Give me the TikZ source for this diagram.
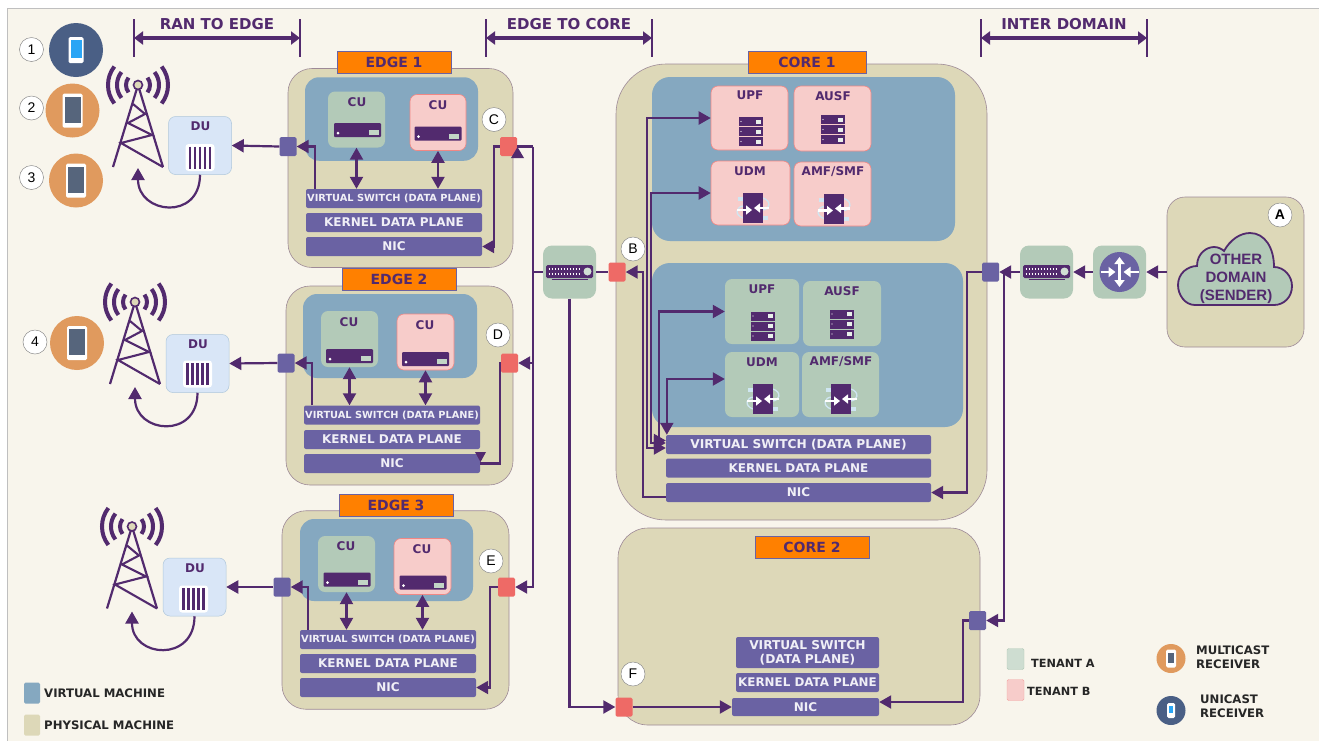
\documentclass[tikz,border=0pt]{standalone}
\usepackage{fontspec}
\setmainfont{DejaVu Sans}
\newfontfamily\circleFont{Liberation Sans}
\usetikzlibrary{arrows.meta}
\definecolor{wireColor}{HTML}{522A6E}
\definecolor{barColor}{HTML}{6A62A3}
\definecolor{physColor}{HTML}{DDD8B8}
\definecolor{virtColor}{HTML}{85A8C0}
\definecolor{tenantA}{HTML}{B3CAB8}
\definecolor{tenantB}{HTML}{F7CCCA}
\definecolor{titleColor}{HTML}{FF8000}
\definecolor{redPort}{HTML}{EE6A66}
\definecolor{duColor}{HTML}{D9E6F7}
\definecolor{paperColor}{HTML}{F8F5EC}
\definecolor{uniColor}{HTML}{4A5F85}
\definecolor{multiColor}{HTML}{E09A5E}
\definecolor{screenGrey}{HTML}{56657C}
\definecolor{screenBlue}{HTML}{2AA5F5}
\definecolor{swirlColor}{HTML}{CFE6F2}
\newcommand{\sz}[1]{\fontsize{#1}{#1}\selectfont\bfseries}
\tikzstyle{physBox}=[shape = rectangle, rounded corners = 24pt, fill = physColor, draw = wireColor!45!physColor, line width = 0.6pt]
\tikzstyle{virtBox}=[shape = rectangle, rounded corners = 14pt, fill = virtColor]
\tikzstyle{titleBox}=[shape = rectangle, minimum width = 114pt, minimum height = 22pt, fill = titleColor, draw = barColor, line width = 0.6pt, text = wireColor, font = \sz{14}]
\tikzstyle{greenBox}=[shape = rectangle, rounded corners = 7pt, fill = tenantA]
\tikzstyle{pinkBox}=[shape = rectangle, rounded corners = 7pt, fill = tenantB, draw = redPort!70!tenantB, line width = 0.6pt]
\tikzstyle{barBox}=[shape = rectangle, rounded corners = 2pt, fill = barColor, text = white!90!barColor, inner sep = 0pt]
\tikzstyle{duBox}=[shape = rectangle, rounded corners = 7pt, fill = duColor, draw = virtColor!50!duColor, line width = 0.5pt, minimum width = 63pt, minimum height = 58pt]
\tikzstyle{bluePort}=[shape = rectangle, rounded corners = 1.5pt, fill = barColor, minimum width = 17pt, minimum height = 19pt, inner sep = 0pt]
\tikzstyle{redSquare}=[shape = rectangle, rounded corners = 1.5pt, fill = redPort, minimum width = 17pt, minimum height = 19pt, inner sep = 0pt]
\tikzstyle{markCircle}=[shape = circle, minimum size = 24pt, inner sep = 0pt, fill = white, draw = black!45, line width = 0.5pt, font = \circleFont\fontsize{14}{14}\selectfont]
\tikzstyle{boxLabel}=[text = wireColor, inner sep = 0pt, font = \sz{12}]
\tikzstyle{blackLabel}=[text = black!85, inner sep = 0pt, anchor = west, align = left, font = \sz{11.7}]
\tikzstyle{headLabel}=[text = wireColor, inner sep = 0pt, font = \sz{15}]
\tikzstyle{wire}=[draw = wireColor, line width = 2.2pt]
\tikzstyle{wireTip}=[wire, -{Triangle[length = 12pt, width = 13pt]}]
\tikzstyle{wireBoth}=[wire, {Triangle[length = 12pt, width = 13pt]}-{Triangle[length = 12pt, width = 13pt]}]
\tikzstyle{spanLine}=[draw = wireColor, line width = 3.4pt, {Triangle[length = 9pt, width = 13pt]}-{Triangle[length = 9pt, width = 13pt]}]
\tikzstyle{tickLine}=[draw = wireColor, line width = 1.2pt]
\newcommand{\towerIcon}[2]{
\begin{scope}[shift = {(#1,#2)}, draw = wireColor]
\draw[line width = 2.2pt] (-25,82) -- (0,0) -- (25,82);
\draw[line width = 2.1pt] (-5,19) -- (7,29) -- (-10,38) -- (14,50) -- (-17,58) -- (25,82);
\draw[line width = 4pt] (38:12pt) arc[start angle = 38, end angle = -38, radius = 12pt];
\draw[line width = 4pt] (38:21pt) arc[start angle = 38, end angle = -38, radius = 21pt];
\draw[line width = 4pt] (38:30pt) arc[start angle = 38, end angle = -38, radius = 30pt];
\draw[line width = 4pt] (142:12pt) arc[start angle = 142, end angle = 218, radius = 12pt];
\draw[line width = 4pt] (142:21pt) arc[start angle = 142, end angle = 218, radius = 21pt];
\draw[line width = 4pt] (142:30pt) arc[start angle = 142, end angle = 218, radius = 30pt];
\draw[fill = physColor, line width = 1.6pt] (0,0) circle[radius = 4.5pt];
\end{scope}}
\newcommand{\phoneIcon}[5]{
\begin{scope}[shift = {(#1,#2)}]
\fill[white, rounded corners = 1.5pt] (-#3/2,-#4/2) rectangle (#3/2,#4/2);
\fill[#5] (-#3/2+2,-#4/2+3) rectangle (#3/2-2,#4/2-5);
\end{scope}}
\newcommand{\cuIcon}[2]{
\begin{scope}[shift = {(#1,#2)}]
\fill[wireColor, rounded corners = 1pt] (-23.5,-7) rectangle (23.5,7);
\fill[white] (-19.5,3) circle[radius = 1.5pt];
\fill[tenantA!80!white] (11,0) rectangle (21,5);
\end{scope}}
\newcommand{\rackIcon}[2]{
\begin{scope}[shift = {(#1,#2)}]
\fill[wireColor] (-12,-14.5) rectangle (12,-5.5);
\fill[wireColor] (-12,-4.5) rectangle (12,4.5);
\fill[wireColor] (-12,5.5) rectangle (12,14.5);
\fill[white!70!tenantA] (5,-12) rectangle (10,-8);
\fill[white!70!tenantA] (5,-2) rectangle (10,2);
\fill[white!70!tenantA] (5,8) rectangle (10,12);
\fill[white] (-10,-10) circle[radius = 0.7pt];
\fill[white] (-10,0) circle[radius = 0.7pt];
\fill[white] (-10,10) circle[radius = 0.7pt];
\end{scope}}
\newcommand{\transferIcon}[2]{
\begin{scope}[shift = {(#1,#2)}]
\fill[swirlColor] (-15,-11) rectangle (-10,-7);
\fill[swirlColor] (10,8) rectangle (15,12);
\draw[swirlColor, line width = 1.3pt] (-10,10) .. controls (-19,7) and (-17,-2) .. (-9,-2);
\draw[swirlColor, line width = 1.3pt] (10,-10) .. controls (19,-7) and (17,2) .. (9,2);
\fill[wireColor] (-10,-15) rectangle (10,15);
\draw[white, line width = 2.3pt, -{Triangle[length = 6pt, width = 9pt]}] (-16,2) -- (-1,2);
\draw[white, line width = 2.3pt, -{Triangle[length = 6pt, width = 9pt]}] (16,0) -- (1,0);
\end{scope}}
\newcommand{\duIcon}[2]{
\begin{scope}[shift = {(#1,#2)}]
\fill[white, rounded corners = 3pt] (-14.5,-13.5) rectangle (14.5,13.5);
\draw[wireColor, line width = 2.9pt] (-10,-11) -- (-10,11);
\draw[wireColor, line width = 2.9pt] (-5,-11) -- (-5,11);
\draw[wireColor, line width = 2.9pt] (0,-11) -- (0,11);
\draw[wireColor, line width = 2.9pt] (5,-11) -- (5,11);
\draw[wireColor, line width = 2.9pt] (10,-11) -- (10,11);
\end{scope}}
\newcommand{\switchIcon}[2]{
\begin{scope}[shift = {(#1,#2)}]
\fill[wireColor, rounded corners = 1.5pt] (-23.5,-6.5) rectangle (23.5,6.5);
\draw[white, line width = 1.5pt, dash pattern = on 1.5pt off 1.5pt] (-21,-2.5) -- (10,-2.5);
\draw[white, line width = 1.5pt, dash pattern = on 1.5pt off 1.5pt] (-21,2.5) -- (10,2.5);
\fill[tenantA!60!white] (18,0) circle[radius = 4pt];
\draw[wireColor, line width = 0.8pt] (-18,8) -- (18,8);
\end{scope}}
\newcommand{\routerIcon}[2]{
\begin{scope}[shift = {(#1,#2)}]
\fill[barColor] (0,0) circle[radius = 20pt];
\draw[white, line width = 2.6pt, {Triangle[length = 7pt, width = 10pt]}-{Triangle[length = 7pt, width = 10pt]}] (0,-15) -- (0,15);
\draw[white, line width = 2.6pt, -{Triangle[length = 7pt, width = 10pt]}] (-19,0) -- (-4,0);
\draw[white, line width = 2.6pt, -{Triangle[length = 7pt, width = 10pt]}] (19,0) -- (4,0);
\end{scope}}
\begin{document}
\begin{tikzpicture}[x = 1pt, y = -1pt]
\useasboundingbox (0,0) rectangle (1319,740);
\fill[white] (0,0) rectangle (1319,740);
\draw[fill = paperColor, draw = black!25, line width = 0.6pt] (7,8) rectangle (1325,746);
% Span arrows on top
\coordinate (ranL) at (134,38);
\coordinate (ranR) at (300,38);
\coordinate (coreL) at (486,38);
\coordinate (coreR) at (652,38);
\coordinate (interL) at (981,38);
\coordinate (interR) at (1147,38);
\draw[tickLine] ([yshift = 19pt]ranL) -- ([yshift = -19pt]ranL);
\draw[tickLine] ([yshift = 19pt]ranR) -- ([yshift = -19pt]ranR);
\draw[tickLine] ([yshift = 19pt]coreL) -- ([yshift = -19pt]coreL);
\draw[tickLine] ([yshift = 19pt]coreR) -- ([yshift = -19pt]coreR);
\draw[tickLine] ([yshift = 19pt]interL) -- ([yshift = -19pt]interL);
\draw[tickLine] ([yshift = 19pt]interR) -- ([yshift = -19pt]interR);
\draw[spanLine] (ranL) -- (ranR);
\draw[spanLine] (coreL) -- (coreR);
\draw[spanLine] (interL) -- (interR);
\node[headLabel] (ranText) at (217,24) {RAN TO EDGE};
\node[headLabel] (coreText) at (569,24) {EDGE TO CORE};
\node[headLabel] (interText) at (1064,24) {INTER DOMAIN};
% Receivers
\node[circle, fill = uniColor, minimum size = 54pt, inner sep = 0pt] (phone1) at (76,50) {};
\node[circle, fill = multiColor, minimum size = 54pt, inner sep = 0pt] (phone2) at (72.5,110.5) {};
\node[circle, fill = multiColor, minimum size = 54pt, inner sep = 0pt] (phone3) at (76,180.5) {};
\node[circle, fill = multiColor, minimum size = 54pt, inner sep = 0pt] (phone4) at (77,343) {};
\phoneIcon{76}{50}{15}{26}{screenBlue}
\phoneIcon{72.5}{110.5}{20}{34}{screenGrey}
\phoneIcon{76}{180.5}{20}{34}{screenGrey}
\phoneIcon{77}{343}{20}{34}{screenGrey}
\node[markCircle] (mark1) at (31.5,49.5) {1};
\node[markCircle] (mark2) at (31.5,108) {2};
\node[markCircle] (mark3) at (31.5,177.5) {3};
\node[markCircle] (mark4) at (35,342) {4};
% Towers
\towerIcon{138}{85}
\towerIcon{135}{302}
\towerIcon{132}{526.5}
\coordinate (footE1) at (138,168);
\coordinate (footE2) at (135,387);
\coordinate (footE3) at (132,611.5);
% Edge one
\node[physBox, minimum width = 225pt, minimum height = 199pt] (pmE1) at (400.5,168) {};
\node[titleBox] (titleE1) at (394,62) {EDGE 1};
\node[virtBox, minimum width = 173pt, minimum height = 83.5pt] (vmE1) at (391.5,119) {};
\node[greenBox, minimum width = 57pt, minimum height = 56pt] (cuGreenE1) at (356.5,119.5) {};
\node[pinkBox, minimum width = 56pt, minimum height = 56pt] (cuPinkE1) at (438,122.5) {};
\node[boxLabel] (cuGreenTextE1) at (357,102) {CU};
\node[boxLabel] (cuPinkTextE1) at (438,105) {CU};
\cuIcon{357.5}{130}
\cuIcon{438}{133.5}
\node[barBox, minimum width = 176pt, minimum height = 19pt, font = \sz{9.8}] (vsE1) at (394,198.5) {VIRTUAL SWITCH (DATA PLANE)};
\node[barBox, minimum width = 176pt, minimum height = 19pt, font = \sz{12}] (kdpE1) at (394,222.5) {KERNEL DATA PLANE};
\node[barBox, minimum width = 176pt, minimum height = 19pt, font = \sz{12}] (nicE1) at (394,246.5) {NIC};
\node[bluePort] (portBlueE1) at (288,146.5) {};
\node[redSquare] (portRedE1) at (508.5,146.5) {};
\node[markCircle] (markC) at (494,119.5) {C};
\node[duBox] (duE1) at (200,145.5) {};
\node[boxLabel] (duTextE1) at (200.5,126) {DU};
\duIcon{200}{157.5}
\draw[wireTip] (portBlueE1.west) -- (duE1.east);
\draw[wireTip] ([xshift = 9pt]vsE1.north west) |- (portBlueE1.east);
\draw[wireBoth] (cuGreenE1.south) -- (vsE1.north -| cuGreenE1.south);
\draw[wireBoth] (cuPinkE1.south) -- (vsE1.north -| cuPinkE1.south);
\draw[wireTip] (portRedE1.west) -- ++(-6,0) |- (nicE1.east);
\draw[wireTip] (duE1.south) to[out = -90, in = -90, looseness = 1.9] (footE1);
% Edge two
\node[physBox, minimum width = 227pt, minimum height = 199pt] (pmE2) at (399.5,385.5) {};
\node[titleBox] (titleE2) at (399,279) {EDGE 2};
\node[virtBox, minimum width = 174pt, minimum height = 84pt] (vmE2) at (390,336) {};
\node[greenBox, minimum width = 57pt, minimum height = 56pt] (cuGreenE2) at (349.5,339) {};
\node[pinkBox, minimum width = 57pt, minimum height = 56pt] (cuPinkE2) at (425.5,342) {};
\node[boxLabel] (cuGreenTextE2) at (349,322) {CU};
\node[boxLabel] (cuPinkTextE2) at (425,325) {CU};
\cuIcon{349.5}{356}
\cuIcon{425.5}{359}
\node[barBox, minimum width = 176pt, minimum height = 19pt, font = \sz{9.8}] (vsE2) at (392,415) {VIRTUAL SWITCH (DATA PLANE)};
\node[barBox, minimum width = 176pt, minimum height = 19pt, font = \sz{12}] (kdpE2) at (392,439.5) {KERNEL DATA PLANE};
\node[barBox, minimum width = 176pt, minimum height = 19pt, font = \sz{12}] (nicE2) at (392,463.5) {NIC};
\node[bluePort] (portBlueE2) at (286,363) {};
\node[redSquare] (portRedE2) at (509.5,363) {};
\node[markCircle] (markD) at (498,335) {D};
\node[duBox] (duE2) at (197.5,363.5) {};
\node[boxLabel] (duTextE2) at (198,344) {DU};
\duIcon{197.5}{374}
\draw[wireTip] (portBlueE2.west) -- (duE2.east);
\draw[wireTip] ([xshift = 8pt]vsE2.north west) |- (portBlueE2.east);
\draw[wireBoth] (cuGreenE2.south) -- (vsE2.north -| cuGreenE2.south);
\draw[wireBoth] (cuPinkE2.south) -- (vsE2.north -| cuPinkE2.south);
\draw[wire] (portRedE2.west) -- ++(-1,0) |- (nicE2.east);
\fill[wireColor] (475,452) -- (486,452) -- (480.5,462) -- cycle;
\draw[wireTip] (duE2.south) to[out = -90, in = -90, looseness = 1.9] (footE2);
% Edge three
\node[physBox, minimum width = 227pt, minimum height = 198.5pt] (pmE3) at (395.5,610) {};
\node[titleBox] (titleE3) at (396,505.5) {EDGE 3};
\node[virtBox, minimum width = 173pt, minimum height = 82pt] (vmE3) at (386.5,560) {};
\node[greenBox, minimum width = 57pt, minimum height = 56pt] (cuGreenE3) at (346.5,564) {};
\node[pinkBox, minimum width = 57pt, minimum height = 56pt] (cuPinkE3) at (422.5,566.5) {};
\node[boxLabel] (cuGreenTextE3) at (346,546.5) {CU};
\node[boxLabel] (cuPinkTextE3) at (422,549.5) {CU};
\cuIcon{347}{579.5}
\cuIcon{423}{582.5}
\node[barBox, minimum width = 176pt, minimum height = 19pt, font = \sz{9.8}] (vsE3) at (388,639.5) {VIRTUAL SWITCH (DATA PLANE)};
\node[barBox, minimum width = 176pt, minimum height = 19pt, font = \sz{12}] (kdpE3) at (388,663.5) {KERNEL DATA PLANE};
\node[barBox, minimum width = 176pt, minimum height = 19pt, font = \sz{12}] (nicE3) at (388,687.5) {NIC};
\node[bluePort] (portBlueE3) at (282,587) {};
\node[redSquare] (portRedE3) at (506.5,587) {};
\node[markCircle] (markE) at (491,561) {E};
\node[duBox] (duE3) at (194.5,587) {};
\node[boxLabel] (duTextE3) at (195,568) {DU};
\duIcon{193.5}{599}
\draw[wireTip] (portBlueE3.west) -- (duE3.east);
\draw[wireTip] ([xshift = 8pt]vsE3.north west) |- (portBlueE3.east);
\draw[wireBoth] (cuGreenE3.south) -- (vsE3.north -| cuGreenE3.south);
\draw[wireBoth] (cuPinkE3.south) -- (vsE3.north -| cuPinkE3.south);
\draw[wireTip] (portRedE3.west) -- ++(-8,0) |- (nicE3.east);
\draw[wireTip] (duE3.south) to[out = -90, in = -90, looseness = 1.9] (footE3);
% Core one
\node[physBox, rounded corners = 50pt, minimum width = 371pt, minimum height = 456pt] (pmC1) at (801.5,292) {};
\node[titleBox, minimum width = 118pt] (titleC1) at (807,62) {CORE 1};
\node[virtBox, rounded corners = 18pt, minimum width = 303pt, minimum height = 164pt] (vmPink) at (803.5,159) {};
\node[virtBox, rounded corners = 18pt, minimum width = 311pt, minimum height = 164pt] (vmGreen) at (807.5,345) {};
\node[pinkBox, minimum width = 77pt, minimum height = 64pt] (upfPink) at (749.5,118) {};
\node[pinkBox, minimum width = 77pt, minimum height = 65pt] (ausfPink) at (832.5,118.5) {};
\node[pinkBox, minimum width = 79pt, minimum height = 64pt] (udmPink) at (750.5,193) {};
\node[pinkBox, minimum width = 77pt, minimum height = 64pt] (amfPink) at (832.5,194) {};
\node[greenBox, minimum width = 74pt, minimum height = 65pt] (upfGreen) at (762,311.5) {};
\node[greenBox, minimum width = 78pt, minimum height = 65pt] (ausfGreen) at (842,313.5) {};
\node[greenBox, minimum width = 74pt, minimum height = 65pt] (udmGreen) at (762,384.5) {};
\node[greenBox, minimum width = 77pt, minimum height = 65pt] (amfGreen) at (840.5,384.5) {};
\node[boxLabel] (upfPinkText) at (750,95) {UPF};
\node[boxLabel] (ausfPinkText) at (833,96) {AUSF};
\node[boxLabel] (udmPinkText) at (750,171) {UDM};
\node[boxLabel] (amfPinkText) at (833,172) {AMF/SMF};
\node[boxLabel] (upfGreenText) at (762,289) {UPF};
\node[boxLabel] (ausfGreenText) at (842,291) {AUSF};
\node[boxLabel] (udmGreenText) at (762,362) {UDM};
\node[boxLabel] (amfGreenText) at (841,362) {AMF/SMF};
\rackIcon{751}{131.5}
\rackIcon{833}{129.5}
\rackIcon{763}{326}
\rackIcon{842}{324}
\transferIcon{753}{208}
\transferIcon{834}{208.5}
\transferIcon{763}{399}
\transferIcon{841}{399}
\node[barBox, minimum width = 265pt, minimum height = 19pt, font = \sz{12.2}] (vsC1) at (798.5,444.5) {VIRTUAL SWITCH (DATA PLANE)};
\node[barBox, minimum width = 265pt, minimum height = 19pt, font = \sz{12}] (kdpC1) at (798.5,468) {KERNEL DATA PLANE};
\node[barBox, minimum width = 265pt, minimum height = 19pt, font = \sz{12}] (nicC1) at (798.5,492.5) {NIC};
\node[redSquare] (portRedC1) at (617,272) {};
\node[bluePort] (portBlueC1) at (990.5,272) {};
\node[markCircle] (markB) at (633,249) {B};
\draw[wireBoth] ([yshift = -3.5pt]vsC1.west) -- ++(-19,0) |- (upfPink.west);
\draw[wireBoth] ([yshift = 1.5pt]vsC1.west) -- ++(-15,0) |- (udmPink.west);
\draw[wireBoth] ([yshift = 4pt]vsC1.west) -- ++(-7,0) |- (upfGreen.west);
\draw[wireBoth] ([xshift = 1pt]vsC1.north west) |- ([yshift = 5.5pt]udmGreen.west);
\draw[wireTip] ([yshift = -4.5pt]nicC1.west) -- ++(-23,0) |- (portRedC1.east);
\draw[wireTip] (portBlueC1.west) -- ++(-15,0) |- (nicC1.east);
% Core two
\node[physBox, rounded corners = 30pt, minimum width = 362pt, minimum height = 197pt] (pmC2) at (799,626.5) {};
\node[titleBox] (titleC2) at (812,547.5) {CORE 2};
\node[barBox, minimum width = 143pt, minimum height = 31pt, align = center, font = \sz{12.2}] (vsC2) at (807.5,652.5) {VIRTUAL SWITCH\\[1.5pt](DATA PLANE)};
\node[barBox, minimum width = 143pt, minimum height = 19pt, font = \sz{11.9}] (kdpC2) at (807.5,682.5) {KERNEL DATA PLANE};
\node[barBox, minimum width = 147pt, minimum height = 18pt, font = \sz{12}] (nicC2) at (805.5,707) {NIC};
\node[bluePort] (portBlueC2) at (977.5,620.5) {};
\node[redSquare] (portRedC2) at (624,707) {};
\node[markCircle] (markF) at (633,674) {F};
\draw[wireTip] (portRedC2.east) -- (nicC2.west);
\draw[wireTip] (portBlueC2.west) -- ++(-6,0) |- ([yshift = 5pt]nicC2.east);
% Inter domain
\node[greenBox, rounded corners = 9pt, minimum size = 53pt] (switchCore) at (569.5,272) {};
\node[greenBox, rounded corners = 9pt, minimum size = 53pt] (switchOther) at (1046.5,272) {};
\node[greenBox, rounded corners = 9pt, minimum size = 53pt] (routerOther) at (1119.5,272) {};
\switchIcon{569.5}{271.5}
\switchIcon{1046.5}{271.5}
\routerIcon{1119.5}{272}
\node[physBox, rounded corners = 18pt, minimum width = 137pt, minimum height = 150pt] (otherDomain) at (1235.5,272) {};
\draw[wireColor, fill = tenantA, line width = 1.8pt] (1195,305) .. controls (1185,305) and (1178,295) .. (1178,285) .. controls (1178,273) and (1188,266) .. (1197,266) .. controls (1197,253) and (1207,247) .. (1214,247) .. controls (1218,247) and (1222,249) .. (1224,251) .. controls (1230,240) and (1240,233) .. (1250,233) .. controls (1265,233) and (1274,248) .. (1274,267) .. controls (1284,267) and (1292,276) .. (1292,286) .. controls (1292,297) and (1284,305) .. (1274,305) -- cycle;
\node[text = wireColor, align = center, inner sep = 0pt, font = \circleFont\fontsize{15}{18}\selectfont\bfseries] (otherText) at (1236,279) {OTHER\\DOMAIN\\(SENDER)};
\node[markCircle, font = \circleFont\fontsize{14}{14}\selectfont\bfseries] (markA) at (1280,215) {A};
% Bus and links
\coordinate (busTop) at (533,146.5);
\coordinate (busD) at (533,363);
\coordinate (busJoin) at (533,272);
\coordinate (interJoin) at (1004,272);
\draw[wire] (portRedE1.east) -- (busTop);
\draw[wireTip] (busTop) |- (portRedE3.east);
\draw[wireTip] (busD) -- (portRedE2.east);
\fill[wireColor] (511,158) -- (524,158) -- (517.5,147) -- cycle;
\draw[wire] (switchCore.west) -- (busJoin);
\draw[wire] (switchCore.east) -- (portRedC1.west);
\draw[wireTip] (switchCore.south) |- (portRedC2.west);
\draw[wireTip] (routerOther.west) -- (switchOther.east);
\draw[wireTip] (otherDomain.west) -- (routerOther.east);
\draw[wireTip] (switchOther.west) -- (portBlueC1.east);
\draw[wireTip] (interJoin) |- (portBlueC2.east);
% Legend
\node[fill = virtColor, rounded corners = 1.5pt, minimum width = 16pt, minimum height = 21pt, inner sep = 0pt] (keyVirt) at (32,693) {};
\node[fill = physColor, rounded corners = 1.5pt, minimum width = 16pt, minimum height = 21pt, inner sep = 0pt] (keyPhys) at (32,725) {};
\node[blackLabel] (keyVirtText) at (44,693) {VIRTUAL MACHINE};
\node[blackLabel] (keyPhysText) at (44,725) {PHYSICAL MACHINE};
\node[fill = tenantA!65!white, draw = tenantA, rounded corners = 1.5pt, minimum width = 17pt, minimum height = 21pt, inner sep = 0pt] (keyTenantA) at (1015.5,659) {};
\node[fill = tenantB, draw = redPort!40!tenantB, rounded corners = 1.5pt, minimum width = 17pt, minimum height = 21pt, inner sep = 0pt] (keyTenantB) at (1015.5,690) {};
\node[blackLabel, font = \sz{11.3}] (keyTenantAText) at (1031,663) {TENANT A};
\node[blackLabel, font = \sz{11.3}] (keyTenantBText) at (1027,691) {TENANT B};
\node[circle, fill = multiColor, minimum size = 29pt, inner sep = 0pt] (keyMulti) at (1171,658.5) {};
\node[circle, fill = uniColor, minimum size = 29pt, inner sep = 0pt] (keyUni) at (1171,710.5) {};
\phoneIcon{1171}{658.5}{10}{18}{screenGrey}
\phoneIcon{1171}{710.5}{8}{15}{screenBlue}
\node[blackLabel] (keyMultiText) at (1196,657.5) {MULTICAST\\[2pt]RECEIVER};
\node[blackLabel] (keyUniText) at (1200,706) {UNICAST\\[2pt]RECEIVER};
\end{tikzpicture}
\end{document}
